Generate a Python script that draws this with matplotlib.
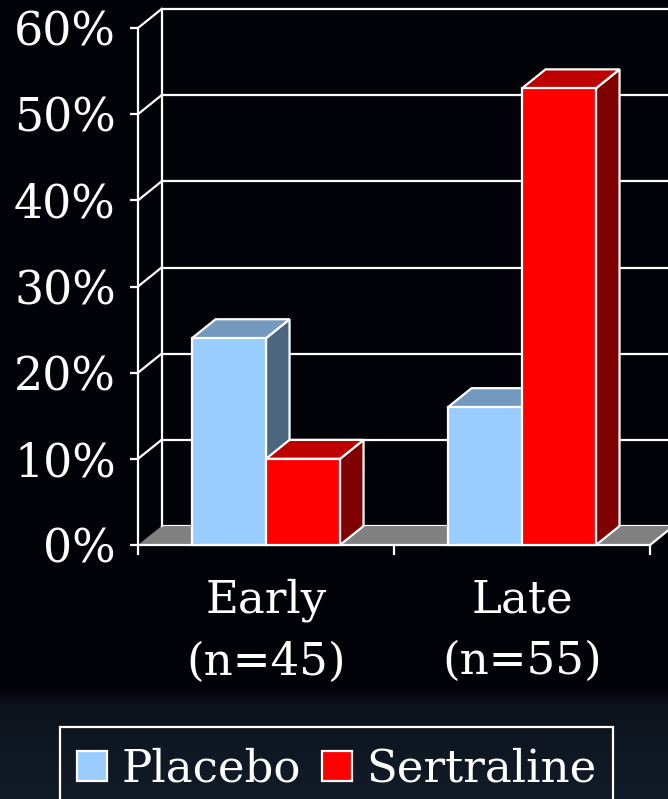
import numpy as np
import matplotlib
matplotlib.use("Agg")
import matplotlib.pyplot as plt
from matplotlib.patches import Polygon, Rectangle
from matplotlib.lines import Line2D

# ---- data -------------------------------------------------------------
categories = ["Early\n(n=45)", "Late\n(n=55)"]
series_names = ["Placebo", "Sertraline"]
placebo = [24, 16]
sertraline = [10, 53]
y_ticks = [0, 10, 20, 30, 40, 50, 60]

# ---- styling ----------------------------------------------------------
W, H = 668, 799
FONT = "DejaVu Serif"
face_colors = {"Placebo": "#99CCFF", "Sertraline": "#FF0000"}
top_colors = {"Placebo": "#7399BF", "Sertraline": "#BF0000"}
side_colors = {"Placebo": "#4D6680", "Sertraline": "#800000"}
FLOOR = "#808080"
EDGE = "white"
LW = 1.6

# depth of the pseudo-3D extrusion, in data units (x categories, y percent)
DX = 0.092
DY = 2.2
BAR_W = 0.289

fig = plt.figure(figsize=(W / 100, H / 100), dpi=100)

# background: near-black upper area, dark navy band at the bottom
bg = fig.add_axes([0, 0, 1, 1])
bg.axis("off")
top_c = np.array([2, 3, 8]) / 255
band_top = np.array([12, 19, 29]) / 255
band_bot = np.array([18, 28, 40]) / 255
img = np.zeros((H, W, 3))
for r in range(H):
    if r < 690:
        c = top_c
    elif r < 705:
        t = (r - 690) / 15
        c = top_c * (1 - t) + band_top * t
    else:
        t = (r - 705) / (H - 705)
        c = band_top * (1 - t) + band_bot * t
    img[r, :, :] = c
bg.imshow(img, extent=[0, 1, 0, 1], aspect="auto", zorder=0)
bg.set_xlim(0, 1)
bg.set_ylim(0, 1)

# chart axes: left edge at the front value axis, bottom at 0 %
x_left, x_right = -0.5, 1.5
ax = fig.add_axes([138 / W, (H - 545) / H, (W - 138) / W, (545 - 28) / H])
ax.set_facecolor("none")
ax.set_xlim(x_left, x_left + (W - 138) / 256)
ax.set_ylim(0, 60)

for s in ["top", "right"]:
    ax.spines[s].set_visible(False)
ax.spines["left"].set_color(EDGE)
ax.spines["left"].set_linewidth(LW)
ax.spines["bottom"].set_color(EDGE)
ax.spines["bottom"].set_linewidth(LW)
ax.spines["bottom"].set_bounds(x_left, x_right)

ax.set_yticks(y_ticks, [f"{v}%" for v in y_ticks])
ax.tick_params(axis="y", direction="out", length=6, width=LW, colors=EDGE,
               labelsize=33, pad=10)
ax.set_xticks([x_left, 0.5, x_right], ["", "", ""])
ax.tick_params(axis="x", which="major", direction="out", length=7, width=LW,
               colors=EDGE)
ax.set_xticks([0, 1], categories, minor=True)
ax.tick_params(axis="x", which="minor", length=0, labelsize=32.5, pad=24,
               colors=EDGE)
for lbl in ax.get_xticklabels(minor=True) + ax.get_yticklabels():
    lbl.set_fontfamily(FONT)
for lbl in ax.get_xticklabels(minor=True):
    lbl.set_linespacing(1.55)


def poly(pts, fc, ec, z, lw=LW):
    ax.add_patch(Polygon(pts, closed=True, facecolor=fc, edgecolor=ec,
                         linewidth=lw, zorder=z, clip_on=False,
                         joinstyle="miter"))


# floor
poly([(x_left, 0), (x_right, 0), (x_right + DX, DY), (x_left + DX, DY)],
     FLOOR, "none", 1, lw=0)
ax.add_line(Line2D([x_right, x_right + DX], [0, DY], color=EDGE, lw=LW,
                   zorder=2, clip_on=False))

# back wall gridlines, side-wall diagonals and back vertical edge
for v in y_ticks:
    ax.add_line(Line2D([x_left + DX, x_right + DX], [v + DY, v + DY],
                       color=EDGE, lw=LW, zorder=1.5 if v else 0.5,
                       clip_on=False))
    if v:
        ax.add_line(Line2D([x_left, x_left + DX], [v, v + DY], color=EDGE,
                           lw=LW, zorder=1.5, clip_on=False))
ax.add_line(Line2D([x_left + DX, x_left + DX], [DY, 60 + DY], color=EDGE,
                   lw=LW, zorder=1.5, clip_on=False))


def bar3d(x0, h, name, z):
    x1 = x0 + BAR_W
    # side face
    poly([(x1, 0), (x1 + DX, DY), (x1 + DX, h + DY), (x1, h)],
         side_colors[name], EDGE, z)
    # top face
    poly([(x0, h), (x1, h), (x1 + DX, h + DY), (x0 + DX, h + DY)],
         top_colors[name], EDGE, z)
    # front face
    poly([(x0, 0), (x1, 0), (x1, h), (x0, h)], face_colors[name], EDGE, z)


for i in range(len(categories)):
    bar3d(i - BAR_W, placebo[i], "Placebo", 3 + i * 2)
    bar3d(i, sertraline[i], "Sertraline", 4 + i * 2)


# legend
def fx(px):
    return px / W


def fy(py):
    return 1 - py / H


fig.add_artist(Rectangle((fx(60), fy(810)), fx(613) - fx(60), fy(727) - fy(810),
                         transform=fig.transFigure, facecolor="none",
                         edgecolor=EDGE, linewidth=LW, zorder=5))
entries = [(77, 121), (322, 366)]
for (sq_x, tx), name in zip(entries, series_names):
    fig.add_artist(Rectangle((fx(sq_x), fy(781)), fx(30), 30 / H,
                             transform=fig.transFigure,
                             facecolor=face_colors[name], edgecolor=EDGE,
                             linewidth=LW, zorder=6))
    fig.text(fx(tx), fy(782), name, color=EDGE, fontsize=32.5,
             fontfamily=FONT, va="baseline", ha="left", zorder=6)

fig.savefig("out.png", dpi=100, facecolor="#020308")
